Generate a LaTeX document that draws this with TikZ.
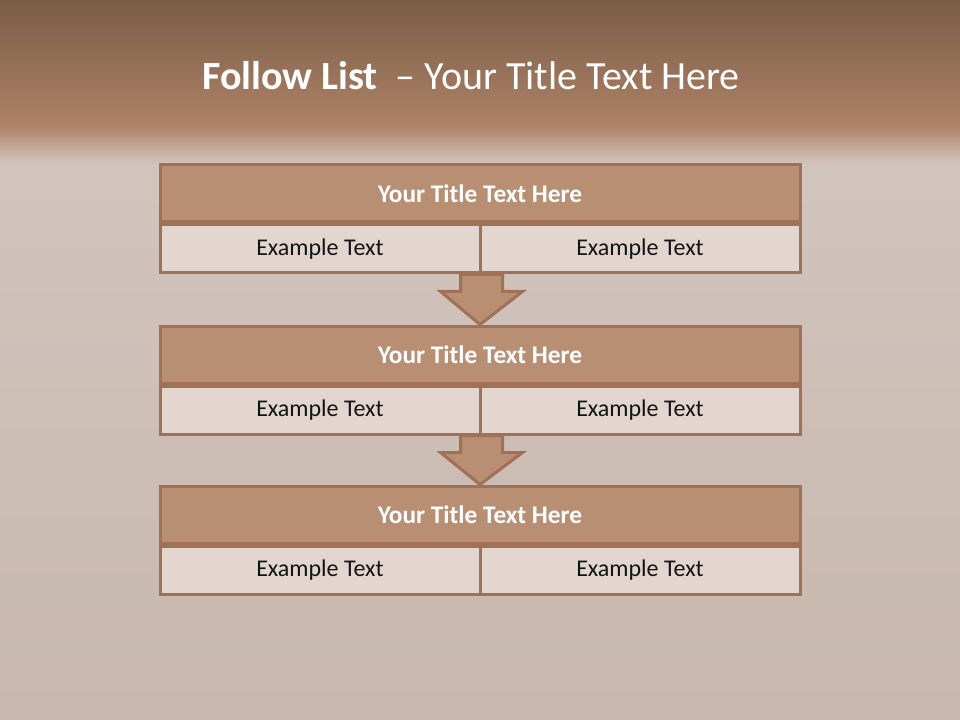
\documentclass[tikz,border=0pt]{standalone}
\usepackage{fontspec}
\setmainfont{Carlito}
\usetikzlibrary{positioning,calc}
\definecolor{FlBandTop}{RGB}{121,93,72}
\definecolor{FlBandLow}{RGB}{174,130,102}
\definecolor{FlPaper}{RGB}{212,200,194}
\definecolor{FlPaperLow}{RGB}{200,184,173}
\definecolor{FlHead}{RGB}{185,143,116}
\definecolor{FlEdge}{RGB}{161,112,86}
\definecolor{FlCell}{RGB}{226,214,207}
\definecolor{FlInk}{RGB}{20,20,20}
\tikzset{
  fl/head/.style={
    draw=FlEdge,
    line width=2.25pt,
    fill=FlHead,
    text=white,
    font=\fontsize{19}{21}\selectfont\bfseries,
    minimum width=480pt,
    minimum height=42.75pt,
    inner sep=0pt
  },
  fl/cell/.style={
    draw=FlEdge,
    line width=2.25pt,
    fill=FlCell,
    text=FlInk,
    font=\fontsize{18}{20}\selectfont,
    minimum width=240pt,
    minimum height=36pt,
    inner sep=0pt
  },
  fl/down/.style={draw=FlEdge, line width=2.25pt, fill=FlHead, line join=miter}
}
\begin{document}
\begin{tikzpicture}[x=0.75pt,y=-0.75pt]
  % backdrop
  \useasboundingbox (0,0) rectangle (960,720);
  \shade[top color=FlPaper,bottom color=FlPaperLow] (0,0) rectangle (960,720);
  \shade[top color=FlBandTop,bottom color=FlBandLow] (0,0) rectangle (960,126);
  \shade[top color=FlBandLow,bottom color=FlPaper] (0,125) rectangle (960,166);
  \node[text=white,font=\fontsize{30}{34}\selectfont] (title) at (471,76)
    {\textbf{Follow List} \ -- Your Title Text Here};

  % first block
  \node[fl/head] (t1) at (480,193.5) {Your Title Text Here};
  \node[fl/cell,anchor=north west] (l1) at (t1.south west) {Example Text};
  \node[fl/cell,anchor=north east] (r1) at (t1.south east) {Example Text};

  % second block
  \node[fl/head] (t2) at (480,354.5) {Your Title Text Here};
  \node[fl/cell,anchor=north west] (l2) at (t2.south west) {Example Text};
  \node[fl/cell,anchor=north east] (r2) at (t2.south east) {Example Text};

  % third block
  \node[fl/head] (t3) at (480,514.5) {Your Title Text Here};
  \node[fl/cell,anchor=north west] (l3) at (t3.south west) {Example Text};
  \node[fl/cell,anchor=north east] (r3) at (t3.south east) {Example Text};

  % arrows between blocks
  \foreach \a/\b in {l1/t2,l2/t3}{
    \draw[fl/down] ($(\a.south east)+(-21,0)$) -- ($(\a.south east)+(21,0)$)
      -- ($(\a.south east)+(21,17)$) -- ($(\a.south east)+(41,17)$)
      -- (\b.north) -- ($(\a.south east)+(-41,17)$)
      -- ($(\a.south east)+(-21,17)$) -- cycle;
  }
\end{tikzpicture}
\end{document}
